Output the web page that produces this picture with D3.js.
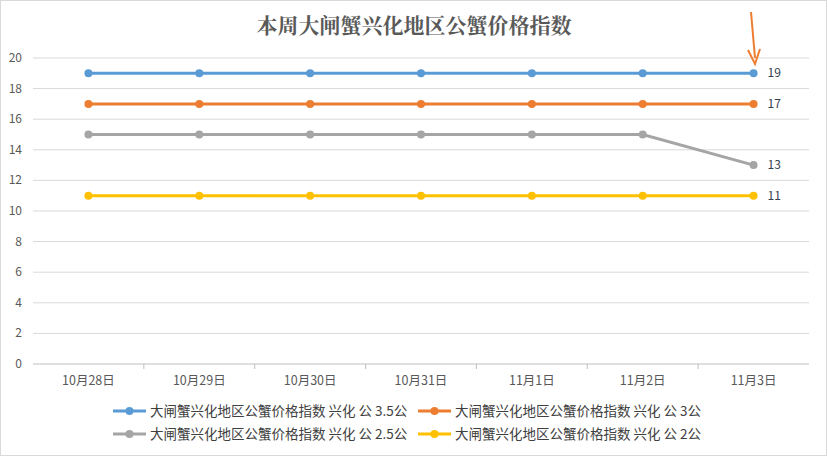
<!DOCTYPE html>
<html><head><meta charset="utf-8">
<script src="https://cdn.jsdelivr.net/npm/d3@7/dist/d3.min.js"></script>
<style>body{margin:0;background:#fff}</style></head>
<body><svg id="c" width="828" height="457"></svg>
<script>
const categories=["10月28日","10月29日","10月30日","10月31日","11月1日","11月2日","11月3日"];
const seriesNames=["大闸蟹兴化地区公蟹价格指数 兴化 公 3.5公","大闸蟹兴化地区公蟹价格指数 兴化 公 3公","大闸蟹兴化地区公蟹价格指数 兴化 公 2.5公","大闸蟹兴化地区公蟹价格指数 兴化 公 2公"];
const s35=[19,19,19,19,19,19,19];
const s3=[17,17,17,17,17,17,17];
const s25=[15,15,15,15,15,15,13];
const s2=[11,11,11,11,11,11,11];
const yTicks=[0,2,4,6,8,10,12,14,16,18,20];
const colors=["#5b9bd5","#ed7d31","#a5a5a5","#ffc000"];
const series=[s35,s3,s25,s2];
const svg=d3.select("#c");
const font="'Microsoft YaHei','Noto Sans CJK SC',sans-serif";
svg.append("rect").attr("x",0.5).attr("y",0.5).attr("width",826).attr("height",455).attr("fill","#fff").attr("stroke","#d9d9d9");
const x=d3.scaleBand().domain(categories).range([33,809]);
const y=d3.scaleLinear().domain([0,20]).range([364,58]);
const g=svg.append("g");
yTicks.forEach(t=>{g.append("line").attr("x1",33).attr("x2",809).attr("y1",y(t)).attr("y2",y(t)).attr("stroke",t===0?"#bfbfbf":"#d9d9d9");
g.append("text").attr("x",22).attr("y",y(t)+4).attr("text-anchor","end").attr("font-size",12).attr("fill","#595959").attr("font-family",font).text(t);});
categories.forEach((c,i)=>{const xx=x(c)+x.bandwidth()/2;
g.append("text").attr("x",xx).attr("y",385).attr("text-anchor","middle").attr("font-size",12.5).attr("fill","#595959").attr("font-family",font).text(c);
if(i>0)g.append("line").attr("x1",x(c)).attr("x2",x(c)).attr("y1",364).attr("y2",369).attr("stroke","#bfbfbf");});
const line=d3.line().x((d,i)=>x(categories[i])+x.bandwidth()/2).y(d=>y(d));
series.forEach((s,k)=>{
g.append("path").attr("d",line(s)).attr("fill","none").attr("stroke",colors[k]).attr("stroke-width",3).attr("stroke-linecap","round");
s.forEach((v,i)=>g.append("circle").attr("cx",x(categories[i])+x.bandwidth()/2).attr("cy",y(v)).attr("r",4).attr("fill",colors[k]));
g.append("text").attr("x",x(categories[6])+x.bandwidth()/2+14).attr("y",y(s[6])+4).attr("font-size",12).attr("fill","#333f50").attr("font-family",font).text(s[6]);
});
svg.append("text").attr("x",414).attr("y",33).attr("text-anchor","middle").attr("font-size",21).attr("font-weight","bold").attr("fill","#595959").attr("font-family","'Noto Serif CJK SC','Noto Sans CJK SC',serif").text("本周大闸蟹兴化地区公蟹价格指数");
svg.append("line").attr("x1",751).attr("y1",12).attr("x2",755).attr("y2",58).attr("stroke","#ed7d31").attr("stroke-width",2);
svg.append("path").attr("d","M748,50 L755,64 L760,49").attr("fill","none").attr("stroke","#ed7d31").attr("stroke-width",2);
const lp=[[113,411],[418,411],[113,434],[418,434]];
seriesNames.forEach((n,k)=>{const [lx,ly]=lp[k];
svg.append("line").attr("x1",lx).attr("x2",lx+33).attr("y1",ly).attr("y2",ly).attr("stroke",colors[k]).attr("stroke-width",3);
svg.append("circle").attr("cx",lx+16.5).attr("cy",ly).attr("r",4).attr("fill",colors[k]);
svg.append("text").attr("x",lx+37).attr("y",ly+5).attr("font-size",13.5).attr("fill","#404040").attr("font-family",font).text(n);});
</script></body></html>
